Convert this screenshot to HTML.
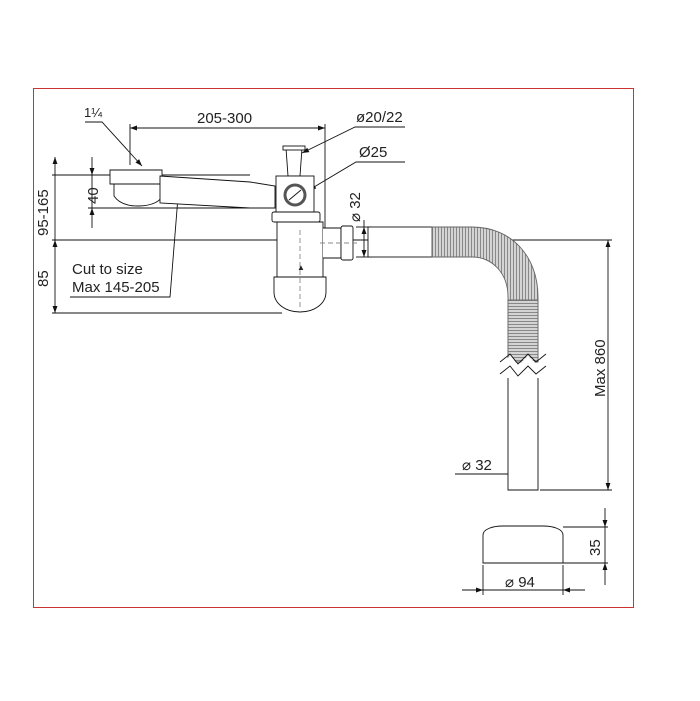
<!DOCTYPE html>
<html><head><style>body{margin:0;background:#fff}svg{display:block}text{font-family:"Liberation Sans",sans-serif;fill:#222}</style></head>
<body>
<svg width="700" height="701" viewBox="0 0 700 701" xmlns="http://www.w3.org/2000/svg">
<defs>
<marker id="a" viewBox="0 0 10 10" refX="10" refY="5" markerWidth="9" markerHeight="7" markerUnits="userSpaceOnUse" orient="auto-start-reverse"><path d="M0,1.5 L10,5 L0,8.5z" fill="#111"/></marker>
<pattern id="rib" width="3" height="3" patternUnits="userSpaceOnUse"><rect width="3" height="3" fill="#d4d4d4"/><rect width="1" height="3" fill="#888"/></pattern>
<pattern id="ribh" width="3" height="3" patternUnits="userSpaceOnUse"><rect width="3" height="3" fill="#d4d4d4"/><rect width="3" height="1" fill="#888"/></pattern>
</defs>
<rect x="33.5" y="88.5" width="600" height="519" fill="none" stroke="#c33" stroke-width="1"/>
<g stroke="#111" stroke-width="0.9" fill="none">
<line x1="52" y1="175" x2="250" y2="175"/>
<line x1="52" y1="240" x2="612" y2="240"/>
<line x1="52" y1="313" x2="282" y2="313"/>
<line x1="88" y1="208" x2="272" y2="208"/>
<line x1="130" y1="124" x2="130" y2="165"/>
<line x1="325" y1="124" x2="325" y2="232"/>
<line x1="540" y1="490" x2="612" y2="490"/>
<line x1="130" y1="128" x2="325" y2="128" marker-start="url(#a)" marker-end="url(#a)"/>
<line x1="55" y1="157" x2="55" y2="240" marker-start="url(#a)"/>
<line x1="55" y1="240" x2="55" y2="313" marker-start="url(#a)" marker-end="url(#a)"/>
<line x1="92" y1="157" x2="92" y2="175" marker-end="url(#a)"/>
<line x1="92" y1="228" x2="92" y2="208" marker-end="url(#a)"/>
<line x1="92" y1="175" x2="92" y2="208"/>
<line x1="364" y1="220" x2="364" y2="227"/>
<line x1="364" y1="227" x2="364" y2="257" marker-start="url(#a)" marker-end="url(#a)"/>
<line x1="356" y1="227" x2="372" y2="227"/><line x1="356" y1="257" x2="372" y2="257"/>
<line x1="608" y1="240" x2="608" y2="490" marker-start="url(#a)" marker-end="url(#a)"/>
<line x1="455" y1="474" x2="508" y2="474"/>
<line x1="508" y1="474" x2="538" y2="474" marker-start="url(#a)" marker-end="url(#a)"/>
<line x1="563" y1="527" x2="608" y2="527"/><line x1="563" y1="563" x2="608" y2="563"/>
<line x1="605" y1="508" x2="605" y2="527" marker-end="url(#a)"/>
<line x1="605" y1="585" x2="605" y2="563" marker-end="url(#a)"/>
<line x1="605" y1="527" x2="605" y2="563"/>
<line x1="483" y1="565" x2="483" y2="595"/><line x1="563" y1="565" x2="563" y2="595"/>
<line x1="462" y1="590" x2="483" y2="590" marker-end="url(#a)"/>
<line x1="585" y1="590" x2="563" y2="590" marker-end="url(#a)"/>
<line x1="483" y1="590" x2="563" y2="590"/>
<polyline points="85,122 102,122 142,166" marker-end="url(#a)"/>
<polyline points="405,127 355,127 302,153" marker-end="url(#a)"/>
<polyline points="405,162 356,162 309,190" marker-end="url(#a)"/>
<polyline points="70,297 170,297 178,197"/>
<path d="M110,170 h52 v14 h-52 z" fill="#fff"/>
<path d="M114,184 h48 v10 c0,8 -12,12 -24,12 c-12,0 -20,-4 -24,-10 z" fill="#fff"/>
<path d="M160,176 L250,182 L275,186 L275,208 L250,208 L160,203 z" fill="#fff"/>
<path d="M286,148 h16 l-2,28 h-12 z" fill="#fff"/>
<rect x="283" y="146" width="22" height="4" fill="#fff"/>
<rect x="276" y="176" width="38" height="36" fill="#fff"/>
<circle cx="295" cy="195" r="10" stroke-width="3" stroke="#555" fill="#fff"/>
<line x1="289" y1="200" x2="301" y2="190"/>
<rect x="272" y="212" width="48" height="10" rx="2" fill="#fff"/>
<path d="M277,222 h46 v55 h-46 z" fill="#fff"/>
<path d="M274,277 h52 v15 c0,12 -12,20 -26,20 c-14,0 -26,-8 -26,-20 z" fill="#fff"/>
<path d="M323,228 h18 v30 h-18" fill="#fff"/>
<rect x="341" y="226" width="12" height="34" rx="2" fill="#fff"/>
<line x1="300" y1="230" x2="300" y2="310" stroke-dasharray="5,3" stroke="#888"/>
<line x1="320" y1="243" x2="360" y2="243" stroke-dasharray="5,3" stroke="#888"/>
<rect x="368" y="227" width="64" height="30" fill="#fff"/>
<path d="M432,227 h40 c40,0 66,30 66,70 v65 h-30 v-65 c0,-24 -16,-40 -36,-40 h-40 z" fill="url(#rib)" stroke="#666"/>
<rect x="508" y="300" width="30" height="62" fill="url(#ribh)" stroke="#666"/>
<path d="M500,368 l10,-8 l8,10 l10,-10 l8,8 l10,-8" stroke="#fff" stroke-width="6"/>
<path d="M500,362 l10,-8 l8,10 l10,-10 l8,8 l10,-8"/>
<path d="M500,374 l10,-8 l8,10 l10,-10 l8,8 l10,-8"/>
<path d="M508,378 v112 h30 v-112" fill="#fff"/>
<path d="M483,563 v-28 c0,-6 10,-9 20,-9 h40 c10,0 20,3 20,9 v28 z" fill="#fff"/>
</g>
<g font-size="15">
<text x="84" y="117" font-size="13">1¼</text>
<text x="197" y="123">205-300</text>
<text x="356" y="122">ø20/22</text>
<text x="359" y="157">Ø25</text>
<text x="72" y="274">Cut to size</text>
<text x="72" y="292">Max 145-205</text>
<text x="297" y="270" font-size="8">▲</text>
<text transform="translate(48,236) rotate(-90)">95-165</text>
<text transform="translate(48,287) rotate(-90)">85</text>
<text transform="translate(98,204) rotate(-90)">40</text>
<text transform="translate(360,222) rotate(-90)">⌀ 32</text>
<text transform="translate(605,397) rotate(-90)">Max 860</text>
<text transform="translate(600,556) rotate(-90)">35</text>
<text x="462" y="470">⌀ 32</text>
<text x="505" y="587">⌀ 94</text>
</g>
</svg>
</body></html>
